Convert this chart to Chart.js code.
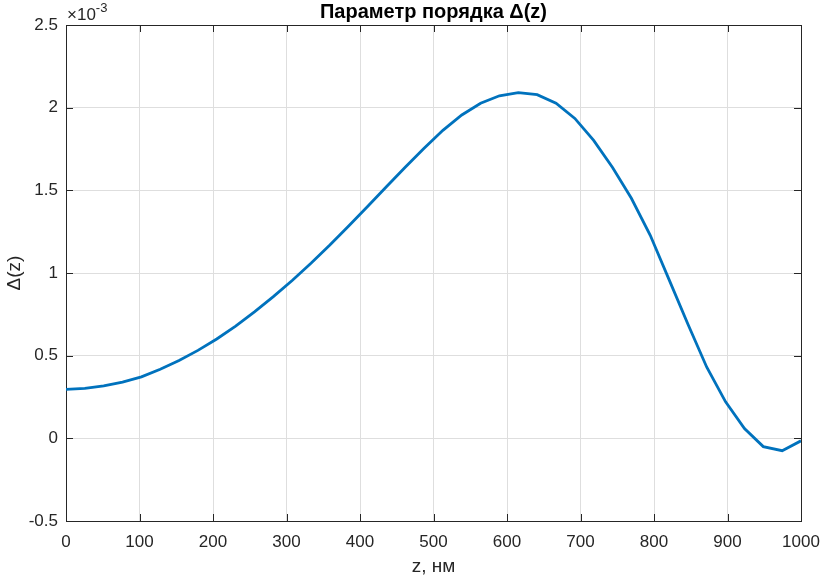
<!DOCTYPE html>
<html>
<head>
<meta charset="utf-8">
<script src="https://cdn.jsdelivr.net/npm/chart.js@4"></script>
<style>
  html, body { margin: 0; padding: 0; background: #fff; }
  #wrap { width: 824px; height: 578px; }
</style>
</head>
<body>
<div id="wrap"><canvas id="myChart" width="824" height="578"></canvas></div>
<script>
// z, nm
const zValues = [0, 25.6, 51.3, 76.9, 102.6, 128.2, 153.8, 179.5, 205.1, 230.8,
  256.4, 282.1, 307.7, 333.3, 359.0, 384.6, 410.3, 435.9, 461.5, 487.2,
  512.8, 538.5, 564.1, 589.7, 615.4, 641.0, 666.7, 692.3, 717.9, 743.6,
  769.2, 794.9, 820.5, 846.2, 871.8, 897.4, 923.1, 948.7, 974.4, 1000];
// Delta(z), in units of 1e-3
const deltaValues = [0.296, 0.302, 0.317, 0.340, 0.372, 0.418, 0.471, 0.532, 0.601, 0.679,
  0.765, 0.857, 0.955, 1.059, 1.169, 1.284, 1.402, 1.522, 1.640, 1.754,
  1.863, 1.956, 2.027, 2.072, 2.091, 2.079, 2.027, 1.935, 1.802, 1.638,
  1.452, 1.228, 0.960, 0.690, 0.430, 0.221, 0.059, -0.050, -0.075, -0.015];
const xTicks = [0, 100, 200, 300, 400, 500, 600, 700, 800, 900, 1000];
const yTicks = [-0.5, 0, 0.5, 1, 1.5, 2, 2.5];
const yTickLabels = ["-0.5", "0", "0.5", "1", "1.5", "2", "2.5"];

const FONT = "'Liberation Sans', Arial, sans-serif";
const TXT = "#262626";

const matlabAxes = {
  id: "matlabAxes",
  beforeDatasetsDraw(chart) {
    const { ctx, chartArea: a, scales } = chart;
    ctx.save();
    ctx.strokeStyle = TXT;
    ctx.lineWidth = 1;
    ctx.beginPath();
    xTicks.forEach(v => {
      const x = Math.round(scales.x.getPixelForValue(v)) + 0.5;
      ctx.moveTo(x, a.bottom); ctx.lineTo(x, a.bottom - 7);
      ctx.moveTo(x, a.top); ctx.lineTo(x, a.top + 7);
    });
    yTicks.forEach(v => {
      const y = Math.round(scales.y.getPixelForValue(v)) + 0.5;
      ctx.moveTo(a.left, y); ctx.lineTo(a.left + 7, y);
      ctx.moveTo(a.right, y); ctx.lineTo(a.right - 7, y);
    });
    ctx.stroke();
    ctx.strokeRect(Math.round(a.left) + 0.5, Math.round(a.top) + 0.5,
      Math.round(a.right - a.left), Math.round(a.bottom - a.top));
    ctx.restore();
  },
  afterDraw(chart) {
    const { ctx, chartArea: a } = chart;
    ctx.save();
    ctx.fillStyle = "#000";
    ctx.font = "bold 20px " + FONT;
    ctx.textAlign = "center";
    ctx.textBaseline = "middle";
    ctx.fillText("Параметр порядка Δ(z)", (a.left + a.right) / 2, 12);
    // exponent label
    ctx.fillStyle = TXT;
    ctx.textAlign = "left";
    ctx.textBaseline = "alphabetic";
    ctx.font = "17px " + FONT;
    ctx.fillText("×10", a.left + 1, 20);
    const w = ctx.measureText("×10").width;
    ctx.font = "13px " + FONT;
    ctx.fillText("-3", a.left + 1 + w, 12);
    ctx.restore();
  }
};

new Chart(document.getElementById("myChart"), {
  type: "line",
  data: {
    datasets: [{
      data: zValues.map((z, i) => ({ x: z, y: deltaValues[i] })),
      borderColor: "#0072BD",
      borderWidth: 2.8,
      pointRadius: 0,
      tension: 0,
      fill: false,
    }],
  },
  options: {
    responsive: false,
    animation: false,
    devicePixelRatio: 1,
    layout: { padding: { top: 25, right: 23, left: 0, bottom: 0 } },
    plugins: { legend: { display: false }, tooltip: { enabled: false } },
    scales: {
      x: {
        type: "linear",
        min: 0,
        max: 1000,
        afterBuildTicks: s => { s.ticks = xTicks.map(v => ({ value: v })); },
        afterFit: s => { s.height = 57; s.paddingLeft = 0; s.paddingRight = 0; },
        ticks: {
          callback: v => String(v),
          color: TXT,
          font: { family: FONT, size: 17 },
          padding: 11,
          maxRotation: 0,
        },
        grid: { color: "#dedede", drawTicks: false },
        border: { display: false },
        title: {
          display: true,
          text: "z, нм",
          color: TXT,
          font: { family: FONT, size: 19 },
          padding: { top: 0, bottom: 0 },
        },
      },
      y: {
        type: "linear",
        min: -0.5,
        max: 2.5,
        afterBuildTicks: s => { s.ticks = yTicks.map(v => ({ value: v })); },
        afterFit: s => { s.width = 66; s.paddingTop = 0; s.paddingBottom = 0; },
        ticks: {
          callback: v => yTickLabels[yTicks.indexOf(v)],
          color: TXT,
          font: { family: FONT, size: 17 },
          padding: 8,
        },
        grid: { color: "#dedede", drawTicks: false },
        border: { display: false },
        title: {
          display: true,
          text: "Δ(z)",
          color: TXT,
          font: { family: FONT, size: 19 },
          padding: { top: 3, bottom: 0 },
        },
      },
    },
  },
  plugins: [matlabAxes],
});
</script>
</body>
</html>
